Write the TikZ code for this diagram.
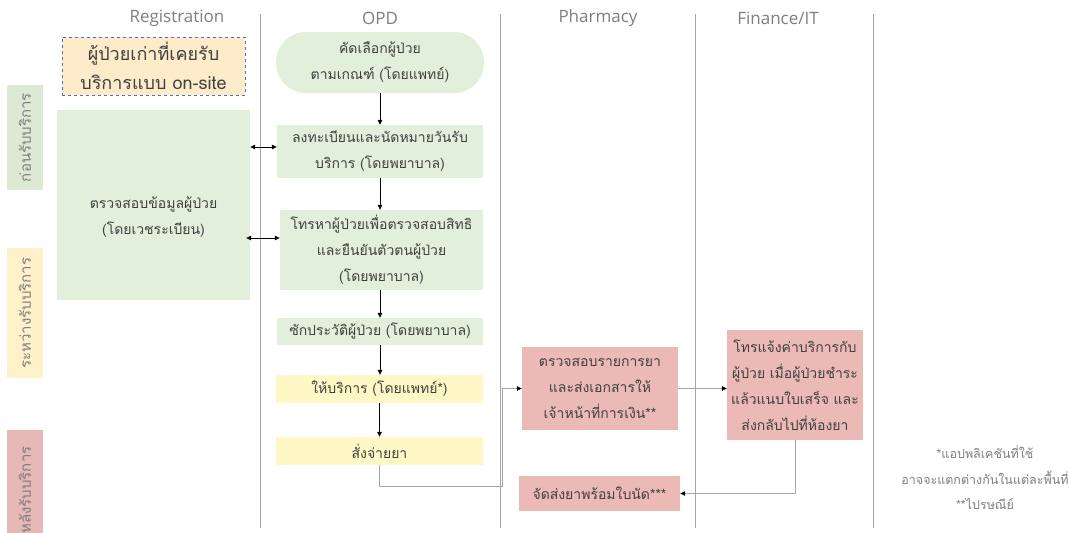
\documentclass[tikz,border=0pt]{standalone}
\usepackage{fontspec}
\newfontfamily\thai[Script=Thai]{Loma}
\newfontfamily\hdr{Open Sans}
\usetikzlibrary{arrows.meta}
\definecolor{gfill}{HTML}{E2EFDA}
\definecolor{yfill}{HTML}{FFF8C6}
\definecolor{pfill}{HTML}{EBBAB6}
\definecolor{ofill}{HTML}{FDEBC9}
\definecolor{dashc}{HTML}{5470B0}
\definecolor{lane}{HTML}{A6A6A6}
\definecolor{hdrc}{HTML}{7F7F7F}
\definecolor{lgfill}{HTML}{DCEAD3}
\definecolor{lyfill}{HTML}{FFF1C9}
\definecolor{lpfill}{HTML}{E6B8B6}
\definecolor{txt}{HTML}{404040}
\begin{document}
\begin{tikzpicture}[x=1pt,y=-1pt,
  box/.style={inner sep=0pt, align=center, text=txt, font=\thai\fontsize{14}{26}\selectfont},
  sidelbl/.style={rotate=90, inner sep=0pt, text=hdrc, font=\thai\fontsize{15}{18}\selectfont},
  hdrtxt/.style={text=hdrc, font=\hdr\fontsize{17}{20}\selectfont},
  arr/.style={-{Triangle[length=5pt,width=4.5pt]}, line width=0.7pt, black},
  darr/.style={{Triangle[length=5pt,width=4.5pt]}-{Triangle[length=5pt,width=4.5pt]}, line width=0.7pt, black},
  garr/.style={line width=0.7pt, draw=lane, arrows={-{Triangle[length=5pt,width=4.5pt,fill=black,color=black]}}},
  laneline/.style={draw=lane, line width=0.8pt}]
\fill[white] (0,0) rectangle (1069,533);
\useasboundingbox (0,0) rectangle (1069,533);

% lane lines
\draw[laneline] (260,14) -- (260,528);
\draw[laneline] (500,14) -- (500,528);
\draw[laneline] (695,14) -- (695,528);
\draw[laneline] (873,14) -- (873,528);

% headers
\node[hdrtxt] (hreg) at (177,18) {Registration};
\node[hdrtxt] (hopd) at (380,18) {OPD};
\node[hdrtxt] (hph) at (598,18) {Pharmacy};
\node[hdrtxt] (hfi) at (778,18) {Finance/IT};

% side labels
\node[sidelbl, fill=lgfill, minimum width=105pt, minimum height=36pt] (s1) at (25,137.5) {ก่อนรับบริการ};
\node[sidelbl, fill=lyfill, minimum width=130pt, minimum height=36pt] (s2) at (25,313) {ระหว่างรับบริการ};
\node[sidelbl, fill=lpfill, minimum width=120pt, minimum height=36pt] (s3) at (25,490) {หลังรับบริการ};

% registration
\node[box, fill=ofill, draw=dashc, dashed, line width=1pt, minimum width=183pt, minimum height=58pt, font=\thai\fontsize{18}{29}\selectfont] (old) at (153.5,66) {ผู้ป่วยเก่าที่เคยรับ\\บริการแบบ on-site};
\node[box, fill=gfill, minimum width=193pt, minimum height=190pt] (reg) at (153.5,205) {};
\node[box] (regt) at (153.5,217) {ตรวจสอบข้อมูลผู้ป่วย\\(โดยเวชระเบียน)};

% OPD
\node[box, fill=gfill, minimum width=208pt, minimum height=61pt, rounded corners=30pt] (sel) at (380,62.5) {คัดเลือกผู้ป่วย\\ตามเกณฑ์ (โดยแพทย์)};
\node[box, fill=gfill, minimum width=206pt, minimum height=53pt] (b4) at (380,151.5) {ลงทะเบียนและนัดหมายวันรับ\\บริการ (โดยพยาบาล)};
\node[box, fill=gfill, minimum width=203pt, minimum height=80pt] (b5) at (381.5,250) {โทรหาผู้ป่วยเพื่อตรวจสอบสิทธิ\\และยืนยันตัวตนผู้ป่วย\\(โดยพยาบาล)};
\node[box, fill=gfill, minimum width=206pt, minimum height=27pt] (b6) at (380,331.5) {ซักประวัติผู้ป่วย (โดยพยาบาล)};
\node[box, fill=yfill, minimum width=207pt, minimum height=28pt] (b7) at (379.5,389) {ให้บริการ (โดยแพทย์*)};
\node[box, fill=yfill, minimum width=207pt, minimum height=28pt] (b8) at (379.5,451) {สั่งจ่ายยา};

% Pharmacy
\node[box, fill=pfill, minimum width=156pt, minimum height=83pt] (b9) at (600,388.5) {ตรวจสอบรายการยา\\และส่งเอกสารให้\\เจ้าหน้าที่การเงิน**};
\node[box, fill=pfill, minimum width=161pt, minimum height=35pt] (b11) at (599.5,493.5) {จัดส่งยาพร้อมใบนัด***};

% Finance
\node[box, fill=pfill, minimum width=136pt, minimum height=110pt] (b10) at (795,385) {โทรแจ้งค่าบริการกับ\\ผู้ป่วย เมื่อผู้ป่วยชำระ\\แล้วแนบใบเสร็จ และ\\ส่งกลับไปที่ห้องยา};

% note
\node[box, text=hdrc, font=\thai\fontsize{12.5}{25.5}\selectfont] (note) at (985,478) {*แอปพลิเคชันที่ใช้\\อาจจะแตกต่างกันในแต่ละพื้นที่\\**ไปรษณีย์};

% connectors
\draw[arr] (sel.south) -- (sel.south |- b4.north);
\draw[arr] (b4.south) -- (b4.south |- b5.north);
\draw[arr] (b4.south |- b5.south) -- (b4.south |- b6.north);
\draw[arr] (b6.south) -- (b6.south |- b7.north);
\draw[arr] (b7.south) -- (b8.north);
\draw[darr] (reg.east |- 0,147) -- (b4.west |- 0,147);
\draw[darr] ([xshift=-4pt]reg.east |- 0,238) -- ([xshift=0pt]b5.west |- 0,238);
\coordinate (c1) at (502,486);
\draw[garr] (b8.south) |- (c1) |- (b9.west);
\draw[garr] (b9.east) -- (b10.west |- b9.east);
\draw[garr] (b10.south) |- (b11.east);
\end{tikzpicture}
\end{document}
